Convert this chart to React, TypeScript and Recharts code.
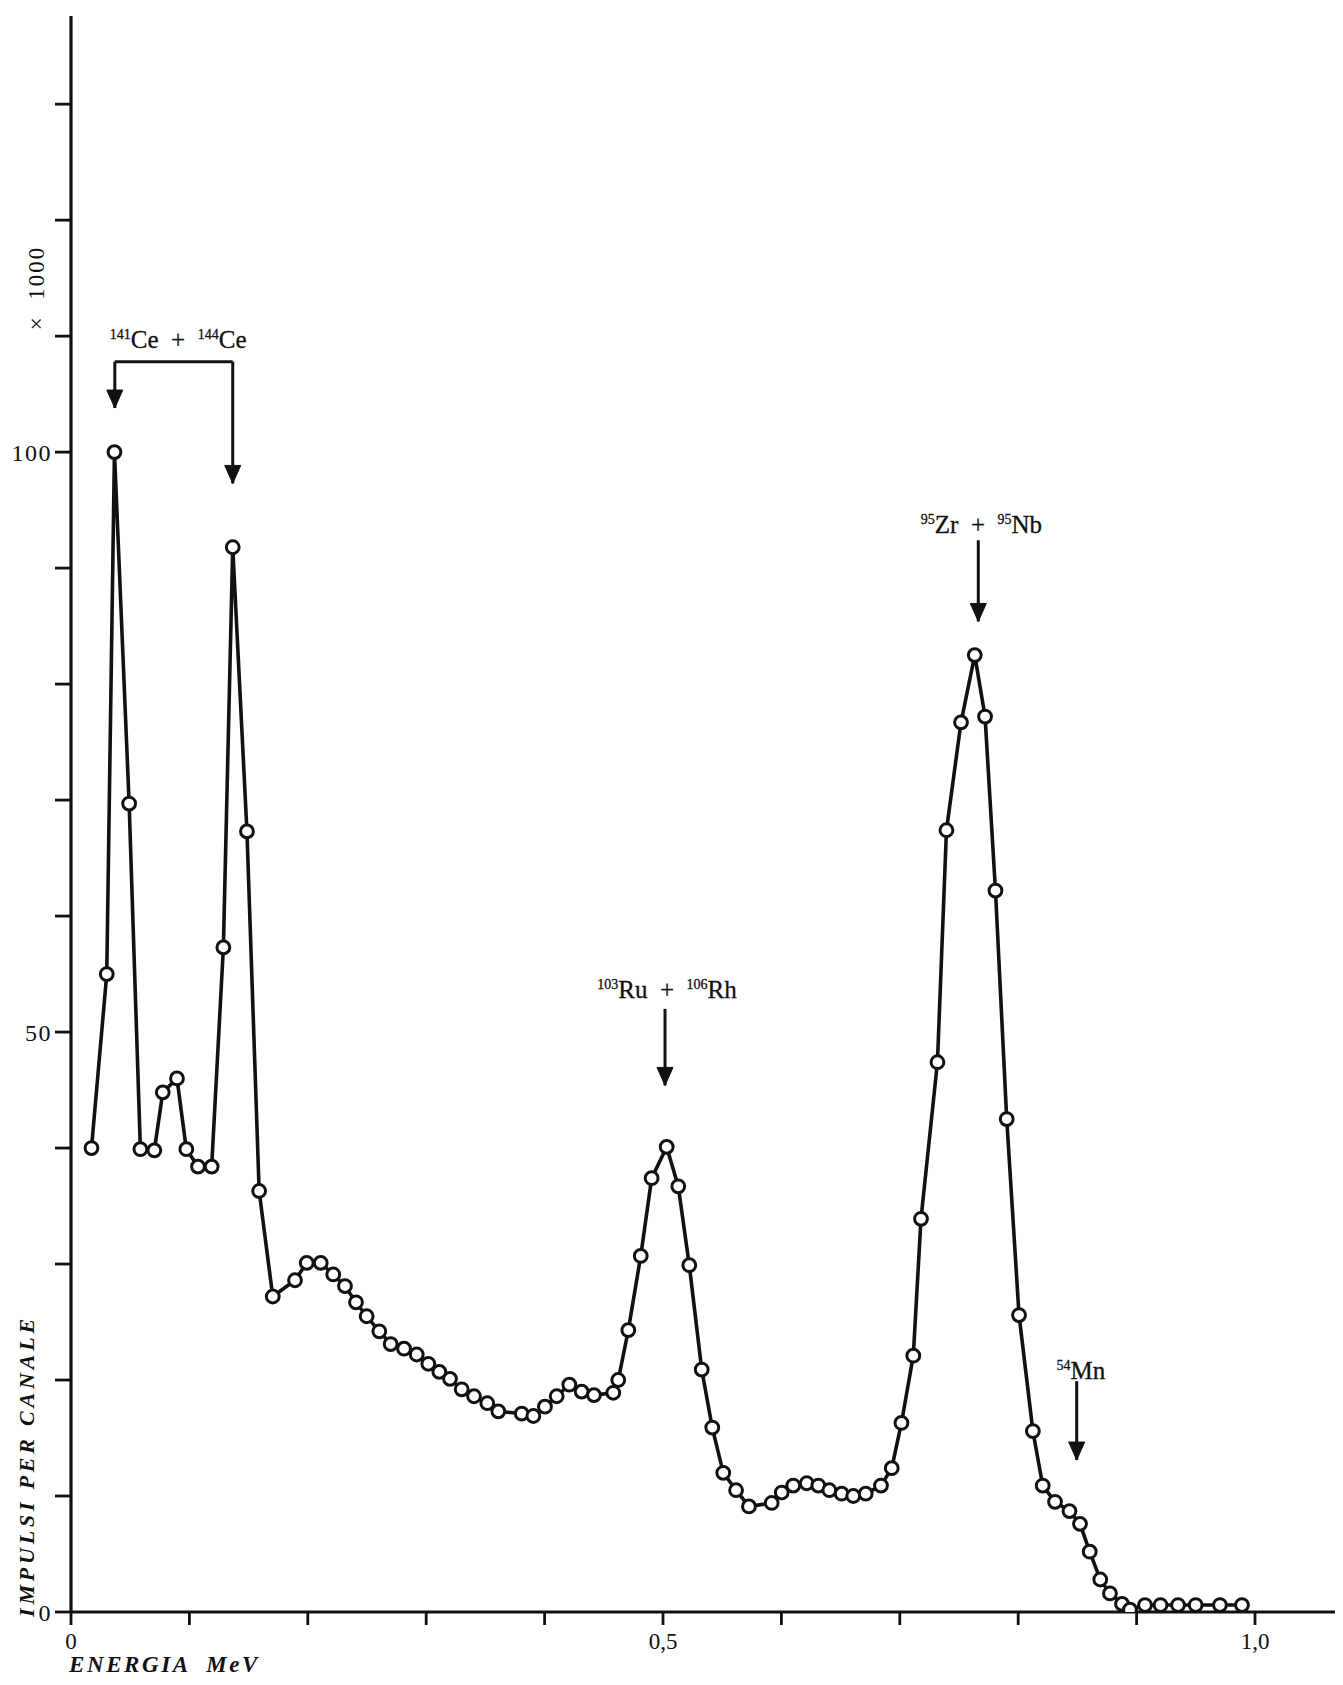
import React from 'react';
import { LineChart, Line, XAxis, YAxis, ReferenceLine, ReferenceDot } from 'recharts';

// Energy of each channel (MeV)
const energyMeV = [
  0.0173, 0.0302, 0.0367, 0.0491, 0.0586, 0.0704, 0.0775, 0.0895, 0.0974, 0.1073,
  0.1188, 0.1287, 0.1366, 0.1486, 0.1589, 0.1704, 0.1892, 0.1991, 0.2109, 0.2215,
  0.2314, 0.2407, 0.2497, 0.2604, 0.27, 0.2813, 0.292, 0.3018, 0.3111, 0.3201,
  0.33, 0.3404, 0.3516, 0.3609, 0.3807, 0.3905, 0.4003, 0.4102, 0.4209, 0.4313,
  0.4417, 0.458, 0.4622, 0.4707, 0.4812, 0.4904, 0.5031, 0.5129, 0.5222, 0.5327,
  0.5416, 0.5509, 0.5617, 0.5726, 0.5918, 0.6003, 0.61, 0.6214, 0.6312, 0.6405,
  0.6509, 0.6607, 0.6712, 0.6841, 0.6932, 0.7014, 0.7114, 0.7179, 0.7318, 0.7394,
  0.7517, 0.7633, 0.772, 0.7808, 0.7903, 0.8007, 0.8124, 0.8207, 0.8311, 0.8433,
  0.8522, 0.8604, 0.8693, 0.8775, 0.8877, 0.8944, 0.9071, 0.9202, 0.935, 0.9499,
  0.9704, 0.989,
];

// Impulses per channel (x 1000)
const countsK = [
  40.0, 55.0, 100.0, 69.7, 39.9, 39.8, 44.8, 46.0, 39.9, 38.4,
  38.4, 57.3, 91.8, 67.3, 36.3, 27.2, 28.6, 30.1, 30.1, 29.1,
  28.1, 26.7, 25.5, 24.2, 23.1, 22.7, 22.2, 21.4, 20.7, 20.1,
  19.2, 18.6, 18.0, 17.3, 17.1, 16.9, 17.7, 18.6, 19.6, 19.0,
  18.7, 18.9, 20.0, 24.3, 30.7, 37.4, 40.1, 36.7, 29.9, 20.9,
  15.9, 12.0, 10.5, 9.1, 9.4, 10.3, 10.9, 11.1, 10.9, 10.5,
  10.2, 10.0, 10.2, 10.9, 12.4, 16.3, 22.1, 33.9, 47.4, 67.4,
  76.7, 82.5, 77.2, 62.2, 42.5, 25.6, 15.6, 10.9, 9.5, 8.7,
  7.6, 5.2, 2.8, 1.6, 0.7, 0.2, 0.6, 0.6, 0.6, 0.6,
  0.6, 0.6,
];

const xTicks = [0, 0.1, 0.2, 0.3, 0.4, 0.5, 0.6, 0.7, 0.8, 0.9, 1.0];
const xLabelValues = [0, 0.5, 1.0];
const xLabelTexts = ['0', '0,5', '1,0'];

const yTicks = [0, 10, 20, 30, 40, 50, 60, 70, 80, 90, 100, 110, 120, 130];
const yLabelValues = [0, 50, 100];
const yLabelTexts = ['0', '50', '100'];

const X_MAX = 1.0701;
const Y_MAX = 137.6;

// Annotation arrows
const arrowX = [0.037, 0.1366, 0.5017, 0.7663, 0.8494];
const arrowFrom = [107.8, 107.8, 52.0, 92.4, 19.9];
const arrowTo = [103.8, 97.3, 45.4, 85.4, 13.1];
const bracketY = 107.8;

// Nuclide labels
const labelMass = [['141', '144'], ['103', '106'], ['95', '95'], ['54']];
const labelElem = [['Ce', 'Ce'], ['Ru', 'Rh'], ['Zr', 'Nb'], ['Mn']];
const labelX = [0.0905, 0.5034, 0.769, 0.853];
const labelY = [109.0, 52.9, 93.0, 20.1];

const data = energyMeV.map((e, i) => ({ e, c: countsK[i] }));

const SERIF = '"Liberation Serif", "DejaVu Serif", serif';
const INK = '#111';

const fmtX = (v: number) => {
  const i = xLabelValues.findIndex((t) => Math.abs(t - v) < 1e-6);
  return i >= 0 ? xLabelTexts[i] : '';
};
const fmtY = (v: number) => {
  const i = yLabelValues.findIndex((t) => Math.abs(t - v) < 1e-6);
  return i >= 0 ? yLabelTexts[i] : '';
};

const makeLabelShape = (k: number) => (props: any) => {
  const { cx, cy } = props;
  const masses = labelMass[k];
  const elems = labelElem[k];
  const parts: any[] = [];
  masses.forEach((m, j) => {
    if (j > 0) {
      parts.push(
        <tspan key={'p' + j} fontSize={25}>{'  +  '}</tspan>
      );
    }
    parts.push(
      <tspan key={'m' + j} fontSize={14} dy={-9}>{m}</tspan>
    );
    parts.push(
      <tspan key={'e' + j} fontSize={25} dy={9}>{elems[j]}</tspan>
    );
  });
  return (
    <text
      x={cx}
      y={cy}
      textAnchor="middle"
      fontFamily={SERIF}
      fill={INK}
      stroke={INK}
      strokeWidth={0.3}
      style={{ whiteSpace: 'pre' }}
    >
      {parts}
    </text>
  );
};

const arrowHead = (props: any) => {
  const { cx, cy } = props;
  return (
    <polygon
      points={`${cx - 8},${cy - 18} ${cx + 8},${cy - 18} ${cx},${cy}`}
      fill={INK}
      stroke={INK}
      strokeWidth={1}
    />
  );
};

export default function App() {
  return (
    <div style={{ position: 'relative', width: 1335, height: 1677, background: '#fff' }}>
      <LineChart
        width={1335}
        height={1677}
        data={data}
        margin={{ top: 8, right: 5, bottom: 43, left: 13 }}
      >
        <XAxis
          type="number"
          dataKey="e"
          domain={[0, X_MAX]}
          ticks={xTicks}
          tickFormatter={fmtX}
          interval={0}
          height={30}
          tickSize={13}
          tickMargin={8}
          axisLine={{ stroke: INK, strokeWidth: 3.2 }}
          tickLine={{ stroke: INK, strokeWidth: 2.8 }}
          tick={{ fontFamily: SERIF, fontSize: 23, fill: INK }}
          allowDataOverflow
        />
        <YAxis
          type="number"
          domain={[0, Y_MAX]}
          ticks={yTicks}
          tickFormatter={fmtY}
          interval={0}
          width={50}
          tickSize={16}
          tickMargin={3}
          axisLine={{ stroke: INK, strokeWidth: 3.2 }}
          tickLine={{ stroke: INK, strokeWidth: 2.8 }}
          tick={{ fontFamily: SERIF, fontSize: 24, fill: INK, letterSpacing: 1.5 }}
          allowDataOverflow
        />
        <ReferenceLine
          segment={[{ x: arrowX[0], y: bracketY }, { x: arrowX[1], y: bracketY }]}
          stroke={INK}
          strokeWidth={3}
        />
        {arrowX.map((x, i) => (
          <ReferenceLine
            key={'al' + i}
            segment={[{ x, y: arrowFrom[i] }, { x, y: arrowTo[i] }]}
            stroke={INK}
            strokeWidth={3}
          />
        ))}
        {arrowX.map((x, i) => (
          <ReferenceDot key={'ah' + i} x={x} y={arrowTo[i]} r={1} shape={arrowHead} />
        ))}
        {labelX.map((x, i) => (
          <ReferenceDot key={'lb' + i} x={x} y={labelY[i]} r={1} shape={makeLabelShape(i)} />
        ))}
        <Line
          type="linear"
          dataKey="c"
          stroke={INK}
          strokeWidth={3.6}
          dot={{ r: 6.4, fill: '#fff', stroke: INK, strokeWidth: 3 }}
          activeDot={false}
          isAnimationActive={false}
        />
      </LineChart>
      <div
        style={{
          position: 'absolute',
          left: 61,
          top: 1645,
          fontFamily: SERIF,
          fontSize: 23,
          fontWeight: 'bold',
          fontStyle: 'italic',
          letterSpacing: 2.6,
          whiteSpace: 'pre',
          lineHeight: 1,
          color: INK,
        }}
      >
        {'ENERGIA  MeV'}
      </div>
      <div
        style={{
          position: 'absolute',
          left: 19,
          top: 1458,
          transform: 'translate(-50%, -50%) rotate(-90deg)',
          fontFamily: SERIF,
          fontSize: 22,
          fontWeight: 'bold',
          fontStyle: 'italic',
          letterSpacing: 3.8,
          whiteSpace: 'nowrap',
          lineHeight: 1,
          color: INK,
        }}
      >
        IMPULSI PER CANALE
      </div>
      <div
        style={{
          position: 'absolute',
          left: 28,
          top: 280,
          transform: 'translate(-50%, -50%) rotate(-90deg)',
          fontFamily: SERIF,
          fontSize: 23,
          letterSpacing: 2,
          whiteSpace: 'pre',
          lineHeight: 1,
          color: INK,
        }}
      >
        {'×  1000'}
      </div>
    </div>
  );
}
